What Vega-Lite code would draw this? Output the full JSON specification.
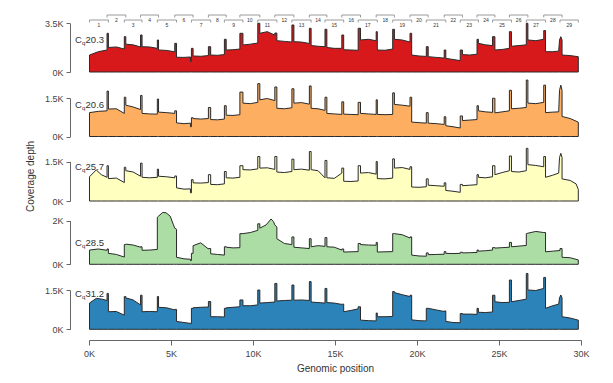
{
"$schema": "https://vega.github.io/schema/vega-lite/v6.json",
"width": 492, "height": 330,
"autosize": {"type": "none"},
"padding": {"left": 89, "top": 0, "right": 32, "bottom": 53},
"config": {"view": {"stroke": null}, "font": "Liberation Sans",
  "axis": {"grid": false, "domainColor": "#666", "tickColor": "#666", "labelColor": "#444", "labelFontSize": 9, "titleFontSize": 10, "titleFontWeight": "normal", "titleColor": "#333"},
  "axisX": {"labelExpr": "datum.value/1000 + 'K'", "offset": 10, "tickSize": 5, "labelPadding": 4, "titlePadding": 5, "labelFlush": false}},
"datasets": {
"amp": [{"n":"1","x":30,"x2":1183,"row":1},{"n":"2","x":1100,"x2":2244,"row":2},{"n":"3","x":2153,"x2":3235,"row":1},{"n":"4","x":3144,"x2":4240,"row":2},{"n":"5","x":4167,"x2":5337,"row":1},{"n":"6","x":5230,"x2":6347,"row":2},{"n":"7","x":6245,"x2":7419,"row":1},{"n":"8","x":7280,"x2":8366,"row":2},{"n":"9","x":8256,"x2":9386,"row":1},{"n":"10","x":9200,"x2":10416,"row":2},{"n":"11","x":10291,"x2":11455,"row":1},{"n":"12","x":11331,"x2":12494,"row":2},{"n":"13","x":12372,"x2":13544,"row":1},{"n":"14","x":13437,"x2":14504,"row":2},{"n":"15","x":14390,"x2":15530,"row":1},{"n":"16","x":15416,"x2":16555,"row":2},{"n":"17","x":16412,"x2":17581,"row":1},{"n":"18","x":17511,"x2":18623,"row":2},{"n":"19","x":18518,"x2":19676,"row":1},{"n":"20","x":19574,"x2":20683,"row":2},{"n":"21","x":20567,"x2":21756,"row":1},{"n":"22","x":21658,"x2":22772,"row":2},{"n":"23","x":22636,"x2":23744,"row":1},{"n":"24","x":23659,"x2":24750,"row":2},{"n":"25","x":24607,"x2":25759,"row":1},{"n":"26","x":25634,"x2":26762,"row":2},{"n":"27","x":26665,"x2":27838,"row":1},{"n":"28","x":27728,"x2":28845,"row":2},{"n":"29","x":28720,"x2":29836,"row":1}],
"labels": [{"panel":"red","c":"C","q":"q","v":"20.3"},{"panel":"orange","c":"C","q":"q","v":"20.6"},{"panel":"yellow","c":"C","q":"q","v":"25.7"},{"panel":"green","c":"C","q":"q","v":"28.5"},{"panel":"blue","c":"C","q":"q","v":"31.2"}],
"red": [{"x":30,"y":1220},{"x":565,"y":1460},{"x":1100,"y":1580},{"x":1100,"y":2780},{"x":1183,"y":2780},{"x":1183,"y":1760},{"x":1668,"y":1800},{"x":2153,"y":1650},{"x":2153,"y":2540},{"x":2244,"y":2540},{"x":2244,"y":2000},{"x":2694,"y":1950},{"x":3144,"y":1800},{"x":3144,"y":2660},{"x":3235,"y":2660},{"x":3235,"y":1820},{"x":3701,"y":1800},{"x":4167,"y":1700},{"x":4167,"y":2300},{"x":4240,"y":2300},{"x":4240,"y":1580},{"x":4735,"y":1550},{"x":5230,"y":1450},{"x":5230,"y":2060},{"x":5337,"y":2060},{"x":5337,"y":1060},{"x":5791,"y":1050},{"x":6185,"y":1080},{"x":6185,"y":740},{"x":6245,"y":740},{"x":6245,"y":1700},{"x":6347,"y":1700},{"x":6347,"y":1150},{"x":6813,"y":1130},{"x":7280,"y":1180},{"x":7280,"y":1820},{"x":7419,"y":1820},{"x":7419,"y":1220},{"x":7837,"y":1200},{"x":8256,"y":1250},{"x":8256,"y":2350},{"x":8366,"y":2350},{"x":8366,"y":1580},{"x":8783,"y":1600},{"x":9200,"y":1650},{"x":9200,"y":2780},{"x":9386,"y":2780},{"x":9386,"y":1940},{"x":9838,"y":2000},{"x":10291,"y":2080},{"x":10291,"y":3500},{"x":10416,"y":3500},{"x":10416,"y":2780},{"x":10873,"y":2900},{"x":11331,"y":2650},{"x":11331,"y":2800},{"x":11455,"y":2800},{"x":11455,"y":2250},{"x":11913,"y":2200},{"x":12372,"y":2150},{"x":12372,"y":3380},{"x":12494,"y":3380},{"x":12494,"y":2180},{"x":12965,"y":2150},{"x":13437,"y":2050},{"x":13437,"y":3140},{"x":13544,"y":3140},{"x":13544,"y":1900},{"x":13967,"y":1850},{"x":14390,"y":1820},{"x":14390,"y":3070},{"x":14504,"y":3070},{"x":14504,"y":1760},{"x":14960,"y":1700},{"x":15416,"y":1700},{"x":15416,"y":2660},{"x":15530,"y":2660},{"x":15530,"y":1600},{"x":15971,"y":1580},{"x":16412,"y":1560},{"x":16412,"y":3140},{"x":16555,"y":3140},{"x":16555,"y":2300},{"x":17033,"y":2350},{"x":17511,"y":2250},{"x":17511,"y":2900},{"x":17581,"y":2900},{"x":17581,"y":1580},{"x":18049,"y":1560},{"x":18518,"y":1650},{"x":18518,"y":3070},{"x":18623,"y":3070},{"x":18623,"y":2350},{"x":19098,"y":2300},{"x":19574,"y":2150},{"x":19574,"y":2780},{"x":19676,"y":2780},{"x":19676,"y":1220},{"x":20121,"y":1150},{"x":20567,"y":1120},{"x":20567,"y":1820},{"x":20683,"y":1820},{"x":20683,"y":1100},{"x":21170,"y":1050},{"x":21658,"y":1000},{"x":21658,"y":1580},{"x":21756,"y":1580},{"x":21756,"y":980},{"x":22196,"y":900},{"x":22636,"y":820},{"x":22636,"y":1580},{"x":22772,"y":1580},{"x":22772,"y":1250},{"x":23215,"y":1220},{"x":23659,"y":1280},{"x":23659,"y":2350},{"x":23744,"y":2350},{"x":23744,"y":2060},{"x":24175,"y":1950},{"x":24607,"y":1900},{"x":24607,"y":2540},{"x":24750,"y":2540},{"x":24750,"y":1580},{"x":25192,"y":1620},{"x":25634,"y":1700},{"x":25634,"y":2900},{"x":25759,"y":2900},{"x":25759,"y":1850},{"x":26212,"y":1900},{"x":26665,"y":1950},{"x":26665,"y":3500},{"x":26762,"y":3500},{"x":26762,"y":2300},{"x":27245,"y":2250},{"x":27728,"y":2350},{"x":27728,"y":2980},{"x":27838,"y":2980},{"x":27838,"y":1460},{"x":28279,"y":1460},{"x":28640,"y":1500},{"x":28690,"y":2300},{"x":28770,"y":2540},{"x":28845,"y":2300},{"x":28845,"y":1220},{"x":29340,"y":1180},{"x":29836,"y":1100}],
"orange": [{"x":30,"y":930},{"x":565,"y":980},{"x":1100,"y":1000},{"x":1100,"y":1770},{"x":1183,"y":1770},{"x":1183,"y":1070},{"x":1668,"y":1080},{"x":2153,"y":900},{"x":2153,"y":1530},{"x":2244,"y":1530},{"x":2244,"y":1220},{"x":2694,"y":1150},{"x":3144,"y":1050},{"x":3144,"y":1600},{"x":3235,"y":1600},{"x":3235,"y":900},{"x":3701,"y":880},{"x":4167,"y":870},{"x":4167,"y":1460},{"x":4240,"y":1460},{"x":4240,"y":950},{"x":4735,"y":930},{"x":5230,"y":900},{"x":5230,"y":1000},{"x":5337,"y":1000},{"x":5337,"y":530},{"x":5791,"y":500},{"x":6185,"y":520},{"x":6185,"y":380},{"x":6245,"y":380},{"x":6245,"y":730},{"x":6347,"y":730},{"x":6347,"y":700},{"x":6813,"y":680},{"x":7280,"y":700},{"x":7280,"y":1130},{"x":7419,"y":1130},{"x":7419,"y":660},{"x":7837,"y":650},{"x":8256,"y":680},{"x":8256,"y":1200},{"x":8366,"y":1200},{"x":8366,"y":830},{"x":8783,"y":820},{"x":9200,"y":850},{"x":9200,"y":1730},{"x":9386,"y":1730},{"x":9386,"y":1300},{"x":9838,"y":1280},{"x":10291,"y":1330},{"x":10291,"y":2060},{"x":10416,"y":2060},{"x":10416,"y":1430},{"x":10873,"y":1480},{"x":11331,"y":1400},{"x":11331,"y":1930},{"x":11455,"y":1930},{"x":11455,"y":1100},{"x":11913,"y":1080},{"x":12372,"y":1120},{"x":12372,"y":1860},{"x":12494,"y":1860},{"x":12494,"y":1300},{"x":12965,"y":1320},{"x":13437,"y":1260},{"x":13437,"y":1970},{"x":13544,"y":1970},{"x":13544,"y":1100},{"x":13967,"y":1080},{"x":14390,"y":1020},{"x":14390,"y":1530},{"x":14504,"y":1530},{"x":14504,"y":900},{"x":14960,"y":880},{"x":15416,"y":860},{"x":15416,"y":1350},{"x":15530,"y":1350},{"x":15530,"y":870},{"x":15971,"y":860},{"x":16412,"y":850},{"x":16412,"y":1330},{"x":16555,"y":1330},{"x":16555,"y":900},{"x":17033,"y":880},{"x":17511,"y":860},{"x":17511,"y":1430},{"x":17581,"y":1430},{"x":17581,"y":860},{"x":18049,"y":850},{"x":18518,"y":860},{"x":18518,"y":1700},{"x":18623,"y":1700},{"x":18623,"y":1250},{"x":19098,"y":1220},{"x":19574,"y":1180},{"x":19574,"y":1530},{"x":19676,"y":1530},{"x":19676,"y":560},{"x":20121,"y":540},{"x":20567,"y":520},{"x":20567,"y":930},{"x":20683,"y":930},{"x":20683,"y":520},{"x":21170,"y":500},{"x":21658,"y":470},{"x":21658,"y":770},{"x":21756,"y":770},{"x":21756,"y":420},{"x":22196,"y":380},{"x":22636,"y":330},{"x":22636,"y":800},{"x":22772,"y":800},{"x":22772,"y":620},{"x":23215,"y":640},{"x":23659,"y":660},{"x":23659,"y":1200},{"x":23744,"y":1200},{"x":23744,"y":1000},{"x":24175,"y":960},{"x":24607,"y":940},{"x":24607,"y":1490},{"x":24750,"y":1490},{"x":24750,"y":920},{"x":25192,"y":960},{"x":25634,"y":1000},{"x":25634,"y":1800},{"x":25759,"y":1800},{"x":25759,"y":1080},{"x":26212,"y":1100},{"x":26665,"y":1130},{"x":26665,"y":2200},{"x":26762,"y":2200},{"x":26762,"y":1300},{"x":27245,"y":1280},{"x":27728,"y":1330},{"x":27728,"y":2000},{"x":27838,"y":2000},{"x":27838,"y":930},{"x":28279,"y":950},{"x":28640,"y":960},{"x":28690,"y":1800},{"x":28770,"y":2000},{"x":28845,"y":1800},{"x":28845,"y":780},{"x":29340,"y":700},{"x":29836,"y":560}],
"yellow": [{"x":30,"y":920},{"x":440,"y":1180},{"x":750,"y":1000},{"x":1100,"y":900},{"x":1100,"y":1340},{"x":1183,"y":1340},{"x":1183,"y":850},{"x":1668,"y":870},{"x":2153,"y":700},{"x":2153,"y":1280},{"x":2244,"y":1280},{"x":2244,"y":1150},{"x":2694,"y":1100},{"x":3144,"y":940},{"x":3144,"y":1440},{"x":3235,"y":1440},{"x":3235,"y":900},{"x":3701,"y":880},{"x":4167,"y":900},{"x":4167,"y":1210},{"x":4240,"y":1210},{"x":4240,"y":940},{"x":4735,"y":920},{"x":5230,"y":880},{"x":5230,"y":950},{"x":5337,"y":950},{"x":5337,"y":500},{"x":5791,"y":450},{"x":6185,"y":460},{"x":6185,"y":310},{"x":6245,"y":310},{"x":6245,"y":810},{"x":6347,"y":810},{"x":6347,"y":690},{"x":6813,"y":680},{"x":7280,"y":700},{"x":7280,"y":1000},{"x":7419,"y":1000},{"x":7419,"y":630},{"x":7837,"y":620},{"x":8256,"y":650},{"x":8256,"y":1120},{"x":8366,"y":1120},{"x":8366,"y":880},{"x":8783,"y":870},{"x":9200,"y":900},{"x":9200,"y":1340},{"x":9386,"y":1340},{"x":9386,"y":1190},{"x":9838,"y":1180},{"x":10291,"y":1220},{"x":10291,"y":1690},{"x":10416,"y":1690},{"x":10416,"y":1250},{"x":10873,"y":1260},{"x":11331,"y":1200},{"x":11331,"y":1690},{"x":11455,"y":1690},{"x":11455,"y":1100},{"x":11913,"y":1080},{"x":12372,"y":1120},{"x":12372,"y":1590},{"x":12494,"y":1590},{"x":12494,"y":1190},{"x":12965,"y":1210},{"x":13437,"y":1170},{"x":13437,"y":1880},{"x":13544,"y":1880},{"x":13544,"y":1190},{"x":13967,"y":1150},{"x":14390,"y":880},{"x":14390,"y":1540},{"x":14504,"y":1540},{"x":14504,"y":880},{"x":14960,"y":860},{"x":15416,"y":1060},{"x":15416,"y":1250},{"x":15530,"y":1250},{"x":15530,"y":750},{"x":15971,"y":740},{"x":16412,"y":760},{"x":16412,"y":1340},{"x":16555,"y":1340},{"x":16555,"y":1060},{"x":17033,"y":1080},{"x":17511,"y":1020},{"x":17511,"y":1500},{"x":17581,"y":1500},{"x":17581,"y":850},{"x":18049,"y":840},{"x":18518,"y":870},{"x":18518,"y":1600},{"x":18623,"y":1600},{"x":18623,"y":1250},{"x":19098,"y":1270},{"x":19574,"y":1200},{"x":19574,"y":1300},{"x":19676,"y":1300},{"x":19676,"y":530},{"x":20121,"y":520},{"x":20567,"y":540},{"x":20567,"y":840},{"x":20683,"y":840},{"x":20683,"y":600},{"x":21170,"y":580},{"x":21658,"y":560},{"x":21658,"y":690},{"x":21756,"y":690},{"x":21756,"y":400},{"x":22196,"y":370},{"x":22636,"y":330},{"x":22636,"y":630},{"x":22772,"y":630},{"x":22772,"y":580},{"x":23215,"y":600},{"x":23659,"y":620},{"x":23659,"y":1000},{"x":23744,"y":1000},{"x":23744,"y":900},{"x":24175,"y":880},{"x":24607,"y":920},{"x":24607,"y":1340},{"x":24750,"y":1340},{"x":24750,"y":1000},{"x":25192,"y":1080},{"x":25634,"y":1150},{"x":25634,"y":1710},{"x":25759,"y":1710},{"x":25759,"y":1120},{"x":26212,"y":1100},{"x":26665,"y":1150},{"x":26665,"y":2000},{"x":26762,"y":2000},{"x":26762,"y":1380},{"x":27245,"y":1350},{"x":27728,"y":1300},{"x":27728,"y":1690},{"x":27838,"y":1690},{"x":27838,"y":900},{"x":28279,"y":980},{"x":28640,"y":1060},{"x":28690,"y":1650},{"x":28770,"y":1810},{"x":28845,"y":1650},{"x":28845,"y":840},{"x":29340,"y":780},{"x":29700,"y":650},{"x":29836,"y":440}],
"green": [{"x":30,"y":650},{"x":565,"y":700},{"x":1100,"y":640},{"x":1100,"y":700},{"x":1183,"y":700},{"x":1183,"y":500},{"x":1668,"y":450},{"x":2153,"y":330},{"x":2153,"y":900},{"x":2244,"y":900},{"x":2244,"y":920},{"x":2694,"y":880},{"x":3144,"y":780},{"x":3144,"y":800},{"x":3235,"y":800},{"x":3235,"y":640},{"x":3701,"y":650},{"x":4167,"y":680},{"x":4167,"y":2150},{"x":4240,"y":2200},{"x":4500,"y":2370},{"x":4700,"y":2350},{"x":4950,"y":2200},{"x":5150,"y":1800},{"x":5230,"y":1650},{"x":5337,"y":1600},{"x":5337,"y":320},{"x":5791,"y":250},{"x":6185,"y":230},{"x":6185,"y":170},{"x":6245,"y":170},{"x":6245,"y":500},{"x":6347,"y":500},{"x":6347,"y":850},{"x":6813,"y":980},{"x":7280,"y":700},{"x":7280,"y":720},{"x":7419,"y":720},{"x":7419,"y":480},{"x":7837,"y":450},{"x":8256,"y":420},{"x":8256,"y":800},{"x":8366,"y":800},{"x":8366,"y":780},{"x":8783,"y":750},{"x":9200,"y":760},{"x":9200,"y":1400},{"x":9386,"y":1400},{"x":9838,"y":1450},{"x":10291,"y":1550},{"x":10291,"y":1850},{"x":10416,"y":1850},{"x":10416,"y":1650},{"x":10800,"y":1800},{"x":11100,"y":2070},{"x":11250,"y":1950},{"x":11331,"y":1800},{"x":11455,"y":1700},{"x":11455,"y":1170},{"x":11913,"y":950},{"x":12372,"y":900},{"x":12372,"y":1250},{"x":12494,"y":1250},{"x":12494,"y":780},{"x":12965,"y":750},{"x":13437,"y":720},{"x":13437,"y":1170},{"x":13544,"y":1170},{"x":13544,"y":800},{"x":13967,"y":850},{"x":14390,"y":820},{"x":14390,"y":1220},{"x":14504,"y":1220},{"x":14504,"y":800},{"x":14960,"y":780},{"x":15416,"y":650},{"x":15416,"y":700},{"x":15530,"y":700},{"x":15530,"y":560},{"x":15971,"y":570},{"x":16412,"y":580},{"x":16412,"y":950},{"x":16555,"y":950},{"x":16555,"y":900},{"x":17033,"y":880},{"x":17511,"y":870},{"x":17511,"y":1000},{"x":17581,"y":1000},{"x":17581,"y":560},{"x":18049,"y":570},{"x":18518,"y":580},{"x":18518,"y":1400},{"x":18623,"y":1400},{"x":19098,"y":1350},{"x":19574,"y":1200},{"x":19574,"y":1250},{"x":19676,"y":1250},{"x":19676,"y":420},{"x":20121,"y":380},{"x":20567,"y":370},{"x":20567,"y":520},{"x":20683,"y":520},{"x":20683,"y":440},{"x":21170,"y":450},{"x":21658,"y":460},{"x":21658,"y":580},{"x":21756,"y":580},{"x":21756,"y":500},{"x":22196,"y":490},{"x":22636,"y":500},{"x":22636,"y":550},{"x":22772,"y":550},{"x":22772,"y":520},{"x":23215,"y":530},{"x":23659,"y":540},{"x":23659,"y":650},{"x":23744,"y":650},{"x":23744,"y":600},{"x":24175,"y":620},{"x":24607,"y":650},{"x":24607,"y":760},{"x":24750,"y":760},{"x":24750,"y":740},{"x":25192,"y":760},{"x":25634,"y":780},{"x":25634,"y":1000},{"x":25759,"y":1000},{"x":25759,"y":800},{"x":26212,"y":830},{"x":26665,"y":860},{"x":26665,"y":1400},{"x":26762,"y":1420},{"x":27245,"y":1500},{"x":27728,"y":1450},{"x":27838,"y":1450},{"x":27838,"y":570},{"x":28279,"y":600},{"x":28720,"y":630},{"x":28720,"y":720},{"x":28845,"y":720},{"x":28845,"y":320},{"x":29340,"y":300},{"x":29836,"y":200}],
"blue": [{"x":30,"y":1000},{"x":440,"y":1180},{"x":800,"y":1150},{"x":1100,"y":1100},{"x":1100,"y":1370},{"x":1183,"y":1370},{"x":1183,"y":670},{"x":1668,"y":680},{"x":2153,"y":540},{"x":2153,"y":1250},{"x":2244,"y":1250},{"x":2244,"y":1200},{"x":2694,"y":1120},{"x":3144,"y":930},{"x":3144,"y":1300},{"x":3235,"y":1300},{"x":3235,"y":670},{"x":3701,"y":680},{"x":4167,"y":670},{"x":4167,"y":1250},{"x":4240,"y":1250},{"x":4240,"y":840},{"x":4735,"y":820},{"x":5230,"y":740},{"x":5230,"y":760},{"x":5337,"y":760},{"x":5337,"y":300},{"x":5791,"y":260},{"x":6245,"y":220},{"x":6245,"y":800},{"x":6347,"y":800},{"x":6347,"y":820},{"x":6813,"y":840},{"x":7280,"y":850},{"x":7280,"y":1060},{"x":7419,"y":1060},{"x":7419,"y":480},{"x":7837,"y":480},{"x":8256,"y":470},{"x":8256,"y":800},{"x":8366,"y":800},{"x":8366,"y":820},{"x":8783,"y":840},{"x":9200,"y":860},{"x":9200,"y":1120},{"x":9386,"y":1120},{"x":9386,"y":900},{"x":9838,"y":900},{"x":10291,"y":930},{"x":10291,"y":1500},{"x":10416,"y":1500},{"x":10416,"y":1000},{"x":10873,"y":1020},{"x":11331,"y":1040},{"x":11331,"y":1750},{"x":11455,"y":1750},{"x":11455,"y":1080},{"x":11913,"y":1100},{"x":12372,"y":1110},{"x":12372,"y":1690},{"x":12494,"y":1690},{"x":12494,"y":1110},{"x":12965,"y":1120},{"x":13437,"y":1100},{"x":13437,"y":1820},{"x":13544,"y":1820},{"x":13544,"y":1040},{"x":13967,"y":1020},{"x":14390,"y":1000},{"x":14390,"y":1560},{"x":14504,"y":1560},{"x":14504,"y":1020},{"x":14960,"y":1000},{"x":15416,"y":950},{"x":15416,"y":960},{"x":15530,"y":960},{"x":15530,"y":670},{"x":15971,"y":720},{"x":16412,"y":780},{"x":16412,"y":860},{"x":16555,"y":860},{"x":16555,"y":350},{"x":17033,"y":330},{"x":17511,"y":320},{"x":17511,"y":620},{"x":17581,"y":620},{"x":17581,"y":480},{"x":18049,"y":480},{"x":18518,"y":490},{"x":18518,"y":1440},{"x":18623,"y":1440},{"x":18623,"y":1400},{"x":19098,"y":1320},{"x":19574,"y":1250},{"x":19574,"y":1300},{"x":19676,"y":1300},{"x":19676,"y":360},{"x":20121,"y":330},{"x":20567,"y":320},{"x":20567,"y":800},{"x":20683,"y":800},{"x":21170,"y":740},{"x":21658,"y":680},{"x":21658,"y":700},{"x":21756,"y":700},{"x":21756,"y":300},{"x":22196,"y":260},{"x":22636,"y":250},{"x":22636,"y":600},{"x":22772,"y":600},{"x":22772,"y":580},{"x":23215,"y":580},{"x":23659,"y":570},{"x":23659,"y":800},{"x":23744,"y":800},{"x":23744,"y":650},{"x":24175,"y":640},{"x":24607,"y":660},{"x":24607,"y":1300},{"x":24750,"y":1300},{"x":24750,"y":1050},{"x":25192,"y":1020},{"x":25634,"y":1030},{"x":25634,"y":1880},{"x":25759,"y":1880},{"x":25759,"y":1050},{"x":26212,"y":1100},{"x":26665,"y":1150},{"x":26665,"y":2130},{"x":26762,"y":2130},{"x":26762,"y":1500},{"x":27245,"y":1480},{"x":27728,"y":1560},{"x":27728,"y":1980},{"x":27838,"y":1980},{"x":27838,"y":800},{"x":28279,"y":900},{"x":28640,"y":960},{"x":28690,"y":1200},{"x":28770,"y":1310},{"x":28845,"y":1200},{"x":28845,"y":480},{"x":29340,"y":430},{"x":29836,"y":350}]
},
"resolve": {"scale": {"y": "independent"}, "axis": {"y": "independent"}},
"layer": [
 {"data": {"name": "amp"},
  "transform": [{"calculate": "(datum.x + datum.x2) / 2", "as": "mid"}],
  "encoding": {"y": {"field": "row", "type": "quantitative", "scale": {"domain": [1, 2], "range": [20, 15], "nice": false, "zero": false}, "axis": null}},
  "layer": [
   {"mark": {"type": "rule", "color": "#9a9a9a", "strokeWidth": 1}, "encoding": {"x": {"field": "x", "type": "quantitative", "scale": {"domain": [0, 30000], "nice": false, "zero": false}, "axis": {"values": [0,5000,10000,15000,20000,25000,30000]}, "title": "Genomic position"}, "x2": {"field": "x2"}}},
   {"mark": {"type": "rule", "color": "#9a9a9a", "strokeWidth": 1, "y2Offset": 2.5}, "encoding": {"x": {"field": "x", "type": "quantitative", "scale": {"domain": [0, 30000], "nice": false, "zero": false}, "axis": {"values": [0,5000,10000,15000,20000,25000,30000]}, "title": "Genomic position"}, "y2": {"field": "row"}}},
   {"mark": {"type": "rule", "color": "#9a9a9a", "strokeWidth": 1, "y2Offset": 2.5}, "encoding": {"x": {"field": "x2", "type": "quantitative", "scale": {"domain": [0, 30000], "nice": false, "zero": false}, "axis": {"values": [0,5000,10000,15000,20000,25000,30000]}, "title": "Genomic position"}, "y2": {"field": "row"}}},
   {"mark": {"type": "text", "fontSize": 5, "dy": 5, "color": "#333", "baseline": "middle"}, "encoding": {"x": {"field": "mid", "type": "quantitative", "scale": {"domain": [0, 30000], "nice": false, "zero": false}, "axis": {"values": [0,5000,10000,15000,20000,25000,30000]}, "title": "Genomic position"}, "text": {"field": "n"}}}
  ]},
 {"layer": [
   {"data": {"name": "red"}, "mark": {"type": "area", "color": "#d7191c", "stroke": "#2a2a2a", "strokeWidth": 1},
    "encoding": {"x": {"field": "x", "type": "quantitative", "scale": {"domain": [0, 30000], "nice": false, "zero": false}, "axis": {"values": [0,5000,10000,15000,20000,25000,30000]}, "title": "Genomic position"}, "order": {"value": null}, "y": {"field": "y", "type": "quantitative", "stack": null, "scale": {"domain": [0, 3500], "range": [72, 23.3], "nice": false},
     "axis": {"orient": "left", "offset": 19, "values": [0, 3500], "labelExpr": "datum.value/1000 + 'K'", "title": null, "tickSize": 4, "labelPadding": 3}}}},
   {"data": {"name": "labels"}, "transform": [{"filter": "datum.panel == 'red'"}],
    "encoding": {"x": {"datum": -850, "type": "quantitative", "axis": {"values": [0,5000,10000,15000,20000,25000,30000]}, "title": "Genomic position"}, "y": {"datum": 2300, "type": "quantitative"}},
    "layer": [
     {"mark": {"type": "text", "align": "left", "baseline": "middle", "fontSize": 9.5, "color": "#333"}, "encoding": {"text": {"field": "c"}}},
     {"mark": {"type": "text", "align": "left", "baseline": "middle", "fontSize": 6, "dx": 7, "dy": 3, "color": "#333"}, "encoding": {"text": {"field": "q"}}},
     {"mark": {"type": "text", "align": "left", "baseline": "middle", "fontSize": 9.5, "dx": 10.5, "color": "#333"}, "encoding": {"text": {"field": "v"}}}
    ]}
 ]},
 {"layer": [
   {"data": {"name": "orange"}, "mark": {"type": "area", "color": "#fdae61", "stroke": "#2a2a2a", "strokeWidth": 1},
    "encoding": {"x": {"field": "x", "type": "quantitative", "scale": {"domain": [0, 30000], "nice": false, "zero": false}, "axis": {"values": [0,5000,10000,15000,20000,25000,30000]}, "title": "Genomic position"}, "order": {"value": null}, "y": {"field": "y", "type": "quantitative", "stack": null, "scale": {"domain": [0, 1500], "range": [136.5, 98], "nice": false},
     "axis": {"orient": "left", "offset": 19, "values": [0, 1500], "labelExpr": "datum.value/1000 + 'K'", "title": null, "tickSize": 4, "labelPadding": 3}}}},
   {"data": {"name": "labels"}, "transform": [{"filter": "datum.panel == 'orange'"}],
    "encoding": {"x": {"datum": -850, "type": "quantitative", "axis": {"values": [0,5000,10000,15000,20000,25000,30000]}, "title": "Genomic position"}, "y": {"datum": 1230, "type": "quantitative"}},
    "layer": [
     {"mark": {"type": "text", "align": "left", "baseline": "middle", "fontSize": 9.5, "color": "#333"}, "encoding": {"text": {"field": "c"}}},
     {"mark": {"type": "text", "align": "left", "baseline": "middle", "fontSize": 6, "dx": 7, "dy": 3, "color": "#333"}, "encoding": {"text": {"field": "q"}}},
     {"mark": {"type": "text", "align": "left", "baseline": "middle", "fontSize": 9.5, "dx": 10.5, "color": "#333"}, "encoding": {"text": {"field": "v"}}}
    ]}
 ]},
 {"layer": [
   {"data": {"name": "yellow"}, "mark": {"type": "area", "color": "#ffffbf", "stroke": "#2a2a2a", "strokeWidth": 1},
    "encoding": {"x": {"field": "x", "type": "quantitative", "scale": {"domain": [0, 30000], "nice": false, "zero": false}, "axis": {"values": [0,5000,10000,15000,20000,25000,30000]}, "title": "Genomic position"}, "order": {"value": null}, "y": {"field": "y", "type": "quantitative", "stack": null, "scale": {"domain": [0, 1500], "range": [201, 161.5], "nice": false},
     "axis": {"orient": "left", "offset": 19, "values": [0, 1500], "labelExpr": "datum.value/1000 + 'K'", "title": "Coverage depth", "titleY": 176, "titlePadding": 9, "tickSize": 4, "labelPadding": 3}}}},
   {"data": {"name": "labels"}, "transform": [{"filter": "datum.panel == 'yellow'"}],
    "encoding": {"x": {"datum": -850, "type": "quantitative", "axis": {"values": [0,5000,10000,15000,20000,25000,30000]}, "title": "Genomic position"}, "y": {"datum": 1280, "type": "quantitative"}},
    "layer": [
     {"mark": {"type": "text", "align": "left", "baseline": "middle", "fontSize": 9.5, "color": "#333"}, "encoding": {"text": {"field": "c"}}},
     {"mark": {"type": "text", "align": "left", "baseline": "middle", "fontSize": 6, "dx": 7, "dy": 3, "color": "#333"}, "encoding": {"text": {"field": "q"}}},
     {"mark": {"type": "text", "align": "left", "baseline": "middle", "fontSize": 9.5, "dx": 10.5, "color": "#333"}, "encoding": {"text": {"field": "v"}}}
    ]}
 ]},
 {"layer": [
   {"data": {"name": "green"}, "mark": {"type": "area", "color": "#abdda4", "stroke": "#2a2a2a", "strokeWidth": 1},
    "encoding": {"x": {"field": "x", "type": "quantitative", "scale": {"domain": [0, 30000], "nice": false, "zero": false}, "axis": {"values": [0,5000,10000,15000,20000,25000,30000]}, "title": "Genomic position"}, "order": {"value": null}, "y": {"field": "y", "type": "quantitative", "stack": null, "scale": {"domain": [0, 2000], "range": [264.3, 220.5], "nice": false},
     "axis": {"orient": "left", "offset": 19, "values": [0, 2000], "labelExpr": "datum.value/1000 + 'K'", "title": null, "tickSize": 4, "labelPadding": 3}}}},
   {"data": {"name": "labels"}, "transform": [{"filter": "datum.panel == 'green'"}],
    "encoding": {"x": {"datum": -850, "type": "quantitative", "axis": {"values": [0,5000,10000,15000,20000,25000,30000]}, "title": "Genomic position"}, "y": {"datum": 990, "type": "quantitative"}},
    "layer": [
     {"mark": {"type": "text", "align": "left", "baseline": "middle", "fontSize": 9.5, "color": "#333"}, "encoding": {"text": {"field": "c"}}},
     {"mark": {"type": "text", "align": "left", "baseline": "middle", "fontSize": 6, "dx": 7, "dy": 3, "color": "#333"}, "encoding": {"text": {"field": "q"}}},
     {"mark": {"type": "text", "align": "left", "baseline": "middle", "fontSize": 9.5, "dx": 10.5, "color": "#333"}, "encoding": {"text": {"field": "v"}}}
    ]}
 ]},
 {"layer": [
   {"data": {"name": "blue"}, "mark": {"type": "area", "color": "#2b83ba", "stroke": "#2a2a2a", "strokeWidth": 1},
    "encoding": {"x": {"field": "x", "type": "quantitative", "scale": {"domain": [0, 30000], "nice": false, "zero": false}, "axis": {"values": [0,5000,10000,15000,20000,25000,30000]}, "title": "Genomic position"}, "order": {"value": null}, "y": {"field": "y", "type": "quantitative", "stack": null, "scale": {"domain": [0, 1500], "range": [329.3, 290], "nice": false},
     "axis": {"orient": "left", "offset": 19, "values": [0, 1500], "labelExpr": "datum.value/1000 + 'K'", "title": null, "tickSize": 4, "labelPadding": 3}}}},
   {"data": {"name": "labels"}, "transform": [{"filter": "datum.panel == 'blue'"}],
    "encoding": {"x": {"datum": -850, "type": "quantitative", "axis": {"values": [0,5000,10000,15000,20000,25000,30000]}, "title": "Genomic position"}, "y": {"datum": 1340, "type": "quantitative"}},
    "layer": [
     {"mark": {"type": "text", "align": "left", "baseline": "middle", "fontSize": 9.5, "color": "#333"}, "encoding": {"text": {"field": "c"}}},
     {"mark": {"type": "text", "align": "left", "baseline": "middle", "fontSize": 6, "dx": 7, "dy": 3, "color": "#333"}, "encoding": {"text": {"field": "q"}}},
     {"mark": {"type": "text", "align": "left", "baseline": "middle", "fontSize": 9.5, "dx": 10.5, "color": "#333"}, "encoding": {"text": {"field": "v"}}}
    ]}
 ]}
]
}
